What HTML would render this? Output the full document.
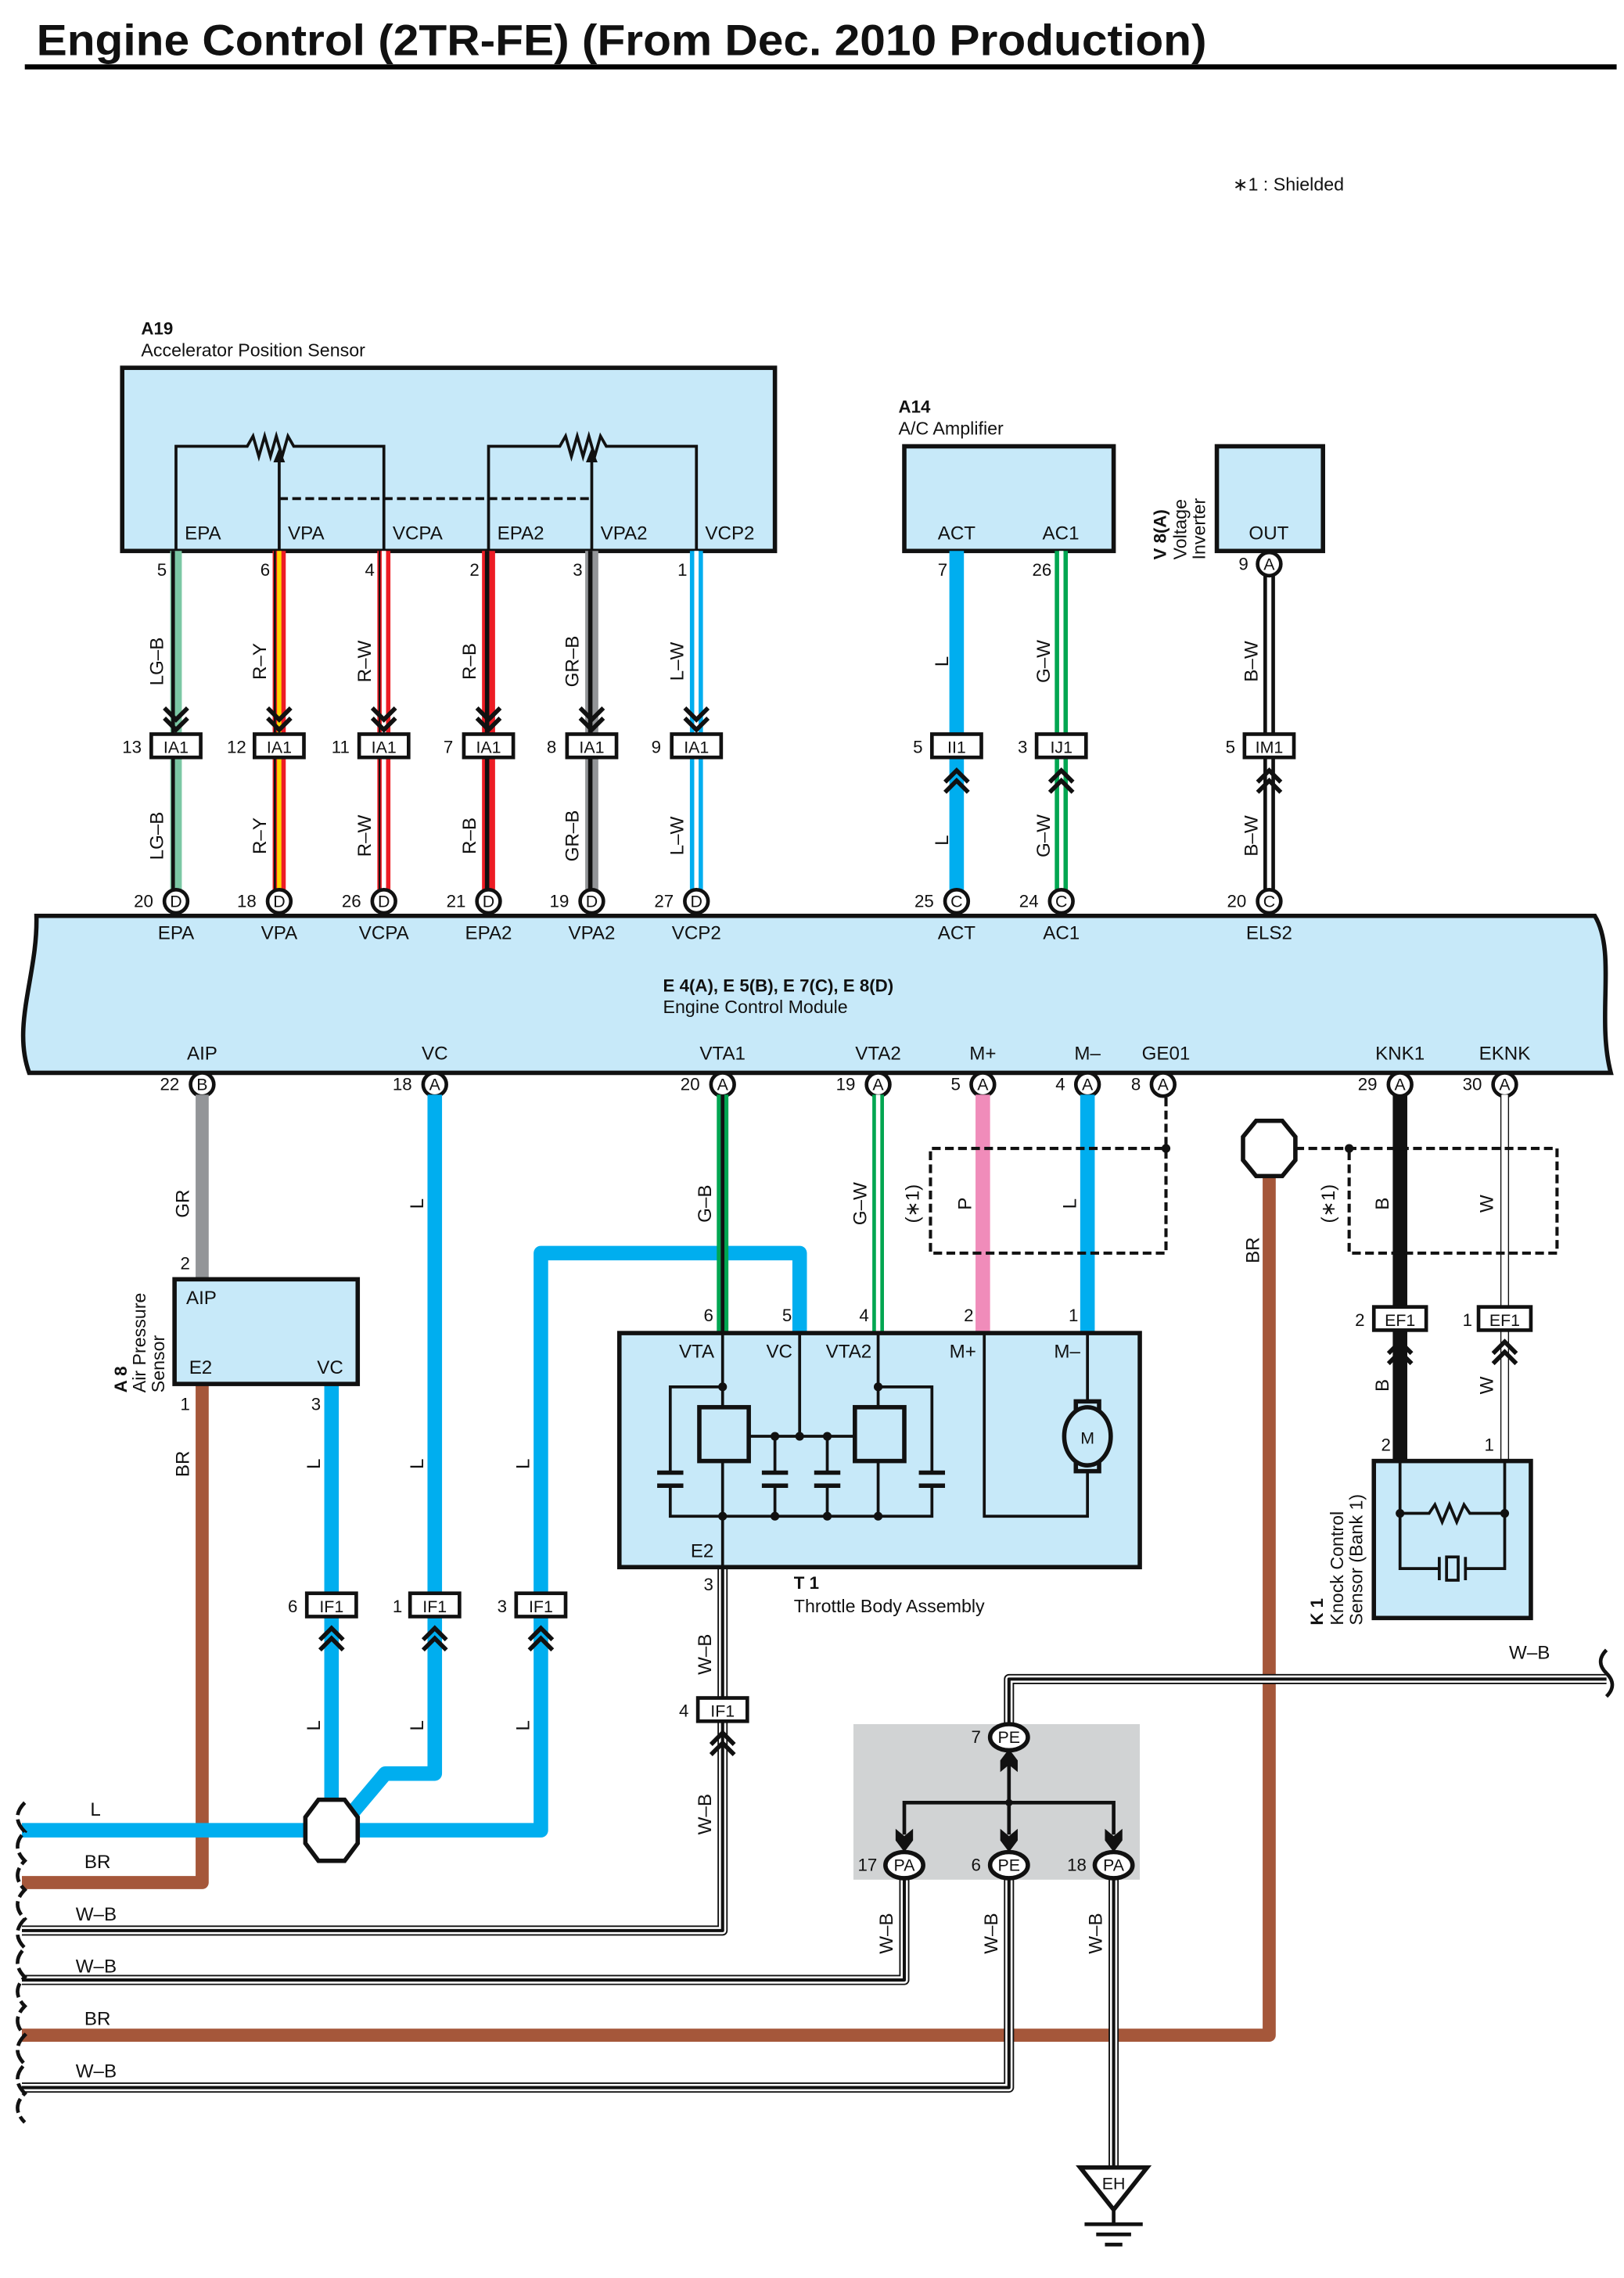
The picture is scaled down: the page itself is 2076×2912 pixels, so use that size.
<!DOCTYPE html>
<html><head><meta charset="utf-8"><style>
html,body{margin:0;padding:0;background:#fff}
svg{display:block}
text{font-family:"Liberation Sans",sans-serif;fill:#111}
.n{font-size:12px}
.l{font-size:13px}
.c{font-size:11.5px;text-anchor:middle}
</style></head><body>
<svg width="2076" height="2912" viewBox="0 0 1117 1567" xmlns="http://www.w3.org/2000/svg">
<rect width="1117" height="1567" fill="#fff"/>
<!-- Title -->
<text x="25" y="38" font-size="30" font-weight="bold" textLength="805" lengthAdjust="spacingAndGlyphs">Engine Control (2TR-FE) (From Dec. 2010 Production)</text>
<line x1="17" y1="46" x2="1112" y2="46" stroke="#000" stroke-width="3.5"/>
<text x="848" y="131" font-size="12.5">∗1 : Shielded</text>

<!-- A19 -->
<text x="97" y="230" font-size="12" font-weight="bold">A19</text>
<text x="97" y="245" font-size="12.5">Accelerator Position Sensor</text>
<rect x="84" y="253" width="449" height="126" fill="#c7e9f9" stroke="#111" stroke-width="3"/>
<g stroke="#111" stroke-width="2" fill="none">
<polyline points="121,379 121,307 170,307 174,300 178,314 182,300 186,314 190,300 194,314 198,300 202,307 264,307 264,379"/>
<polyline points="336,379 336,307 385,307 389,300 393,314 397,300 401,314 405,300 409,314 413,300 417,307 479,307 479,379"/>
<line x1="192" y1="379" x2="192" y2="316"/>
<line x1="407" y1="379" x2="407" y2="316"/>
<line x1="192" y1="343" x2="407" y2="343" stroke-dasharray="6,3"/>
</g>
<polygon points="192,308 188,318 196,318" fill="#111"/>
<polygon points="407,308 403,318 411,318" fill="#111"/>
<g class="l"><text x="127" y="371">EPA</text><text x="198" y="371">VPA</text><text x="270" y="371">VCPA</text><text x="342" y="371">EPA2</text><text x="413" y="371">VPA2</text><text x="485" y="371">VCP2</text></g>

<!-- A14 -->
<text x="618" y="284" font-size="12" font-weight="bold">A14</text>
<text x="618" y="299" font-size="12.5">A/C Amplifier</text>
<rect x="622" y="307" width="144" height="72" fill="#c7e9f9" stroke="#111" stroke-width="3"/>
<text x="645" y="371" class="l">ACT</text><text x="717" y="371" class="l">AC1</text>
<!-- V8 -->
<rect x="837" y="307" width="73" height="72" fill="#c7e9f9" stroke="#111" stroke-width="3"/>
<text x="859" y="371" class="l">OUT</text>
<text transform="translate(802,385) rotate(-90)" font-size="12" font-weight="bold">V 8(A)</text>
<text transform="translate(816,385) rotate(-90)" font-size="12.5">Voltage</text>
<text transform="translate(829,385) rotate(-90)" font-size="12.5">Inverter</text>

<!-- Top wires -->
<g fill="none">
<line x1="121" y1="379" x2="121" y2="620" stroke="#7bc8a4" stroke-width="8"/><line x1="119" y1="379" x2="119" y2="620" stroke="#111" stroke-width="2.5"/>
<line x1="192" y1="379" x2="192" y2="620" stroke="#ed1c24" stroke-width="9"/><line x1="192" y1="379" x2="192" y2="620" stroke="#ffd400" stroke-width="3"/><line x1="189" y1="379" x2="189" y2="620" stroke="#111" stroke-width="1.5"/>
<line x1="264" y1="379" x2="264" y2="620" stroke="#ed1c24" stroke-width="9"/><line x1="264" y1="379" x2="264" y2="620" stroke="#fff" stroke-width="3"/><line x1="261" y1="379" x2="261" y2="620" stroke="#111" stroke-width="1.2"/>
<line x1="336" y1="379" x2="336" y2="620" stroke="#ed1c24" stroke-width="9"/><line x1="335" y1="379" x2="335" y2="620" stroke="#111" stroke-width="3"/>
<line x1="407" y1="379" x2="407" y2="620" stroke="#939598" stroke-width="9"/><line x1="406" y1="379" x2="406" y2="620" stroke="#111" stroke-width="3"/>
<line x1="479" y1="379" x2="479" y2="620" stroke="#00aeef" stroke-width="9"/><line x1="479" y1="379" x2="479" y2="620" stroke="#fff" stroke-width="3"/>
<line x1="658" y1="379" x2="658" y2="620" stroke="#00aeef" stroke-width="10"/>
<line x1="730" y1="379" x2="730" y2="620" stroke="#00a651" stroke-width="9"/><line x1="730" y1="379" x2="730" y2="620" stroke="#fff" stroke-width="3"/>
<line x1="873" y1="392" x2="873" y2="620" stroke="#111" stroke-width="8"/><line x1="873" y1="392" x2="873" y2="620" stroke="#fff" stroke-width="3"/>
</g>
<!-- top pin numbers -->
<g class="n"><text x="108" y="396">5</text><text x="179" y="396">6</text><text x="251" y="396">4</text><text x="323" y="396">2</text><text x="394" y="396">3</text><text x="466" y="396">1</text><text x="645" y="396">7</text><text x="710" y="396">26</text></g>
<circle cx="873" cy="388" r="8" fill="#fff" stroke="#111" stroke-width="2.5"/><text x="873" y="392" class="c">A</text><text x="852" y="392" class="n">9</text>
<!-- wire labels rotated -->
<g class="l">
<text transform="translate(112,455) rotate(-90)" text-anchor="middle">LG–B</text><text transform="translate(112,575) rotate(-90)" text-anchor="middle">LG–B</text>
<text transform="translate(183,455) rotate(-90)" text-anchor="middle">R–Y</text><text transform="translate(183,575) rotate(-90)" text-anchor="middle">R–Y</text>
<text transform="translate(255,455) rotate(-90)" text-anchor="middle">R–W</text><text transform="translate(255,575) rotate(-90)" text-anchor="middle">R–W</text>
<text transform="translate(327,455) rotate(-90)" text-anchor="middle">R–B</text><text transform="translate(327,575) rotate(-90)" text-anchor="middle">R–B</text>
<text transform="translate(398,455) rotate(-90)" text-anchor="middle">GR–B</text><text transform="translate(398,575) rotate(-90)" text-anchor="middle">GR–B</text>
<text transform="translate(470,455) rotate(-90)" text-anchor="middle">L–W</text><text transform="translate(470,575) rotate(-90)" text-anchor="middle">L–W</text>
<text transform="translate(652,455) rotate(-90)" text-anchor="middle">L</text><text transform="translate(652,578) rotate(-90)" text-anchor="middle">L</text>
<text transform="translate(722,455) rotate(-90)" text-anchor="middle">G–W</text><text transform="translate(722,575) rotate(-90)" text-anchor="middle">G–W</text>
<text transform="translate(865,455) rotate(-90)" text-anchor="middle">B–W</text><text transform="translate(865,575) rotate(-90)" text-anchor="middle">B–W</text>
</g>
<!-- down chevrons and IA1 -->
<g stroke="#111" stroke-width="3" fill="none">
<path d="M113,487 l8,8 l8,-8 M113,494 l8,8 l8,-8"/>
<path d="M184,487 l8,8 l8,-8 M184,494 l8,8 l8,-8"/>
<path d="M256,487 l8,8 l8,-8 M256,494 l8,8 l8,-8"/>
<path d="M328,487 l8,8 l8,-8 M328,494 l8,8 l8,-8"/>
<path d="M399,487 l8,8 l8,-8 M399,494 l8,8 l8,-8"/>
<path d="M471,487 l8,8 l8,-8 M471,494 l8,8 l8,-8"/>
<path d="M650,538 l8,-8 l8,8 M650,545 l8,-8 l8,8"/>
<path d="M722,538 l8,-8 l8,8 M722,545 l8,-8 l8,8"/>
<path d="M865,538 l8,-8 l8,8 M865,545 l8,-8 l8,8"/>
</g>
<g stroke="#111" stroke-width="2.5" fill="#fff">
<rect x="104" y="505" width="34" height="16"/><rect x="175" y="505" width="34" height="16"/><rect x="247" y="505" width="34" height="16"/><rect x="319" y="505" width="34" height="16"/><rect x="390" y="505" width="34" height="16"/><rect x="462" y="505" width="34" height="16"/>
<rect x="641" y="505" width="34" height="16"/><rect x="713" y="505" width="34" height="16"/><rect x="856" y="505" width="34" height="16"/>
</g>
<g class="c"><text x="121" y="518">IA1</text><text x="192" y="518">IA1</text><text x="264" y="518">IA1</text><text x="336" y="518">IA1</text><text x="407" y="518">IA1</text><text x="479" y="518">IA1</text><text x="658" y="518">II1</text><text x="730" y="518">IJ1</text><text x="873" y="518">IM1</text></g>
<g class="n"><text x="84" y="518">13</text><text x="156" y="518">12</text><text x="228" y="518">11</text><text x="305" y="518">7</text><text x="376" y="518">8</text><text x="448" y="518">9</text><text x="628" y="518">5</text><text x="700" y="518">3</text><text x="843" y="518">5</text></g>

<!-- ECM -->
<path d="M25,630 H1097 C1112,655 1098,700 1108,738 H20 C8,705 26,670 25,630Z" fill="#c7e9f9" stroke="#111" stroke-width="3"/>
<g stroke="#111" stroke-width="2.5" fill="#fff">
<circle cx="121" cy="620" r="8"/><circle cx="192" cy="620" r="8"/><circle cx="264" cy="620" r="8"/><circle cx="336" cy="620" r="8"/><circle cx="407" cy="620" r="8"/><circle cx="479" cy="620" r="8"/><circle cx="658" cy="620" r="8"/><circle cx="730" cy="620" r="8"/><circle cx="873" cy="620" r="8"/>
<circle cx="139" cy="746" r="8"/><circle cx="299" cy="746" r="8"/><circle cx="497" cy="746" r="8"/><circle cx="604" cy="746" r="8"/><circle cx="676" cy="746" r="8"/><circle cx="748" cy="746" r="8"/><circle cx="800" cy="746" r="8"/><circle cx="963" cy="746" r="8"/><circle cx="1035" cy="746" r="8"/>
</g>
<g class="c"><text x="121" y="624">D</text><text x="192" y="624">D</text><text x="264" y="624">D</text><text x="336" y="624">D</text><text x="407" y="624">D</text><text x="479" y="624">D</text><text x="658" y="624">C</text><text x="730" y="624">C</text><text x="873" y="624">C</text>
<text x="139" y="750">B</text><text x="299" y="750">A</text><text x="497" y="750">A</text><text x="604" y="750">A</text><text x="676" y="750">A</text><text x="748" y="750">A</text><text x="800" y="750">A</text><text x="963" y="750">A</text><text x="1035" y="750">A</text></g>
<g class="n"><text x="92" y="624">20</text><text x="163" y="624">18</text><text x="235" y="624">26</text><text x="307" y="624">21</text><text x="378" y="624">19</text><text x="450" y="624">27</text><text x="629" y="624">25</text><text x="701" y="624">24</text><text x="844" y="624">20</text>
<text x="110" y="750">22</text><text x="270" y="750">18</text><text x="468" y="750">20</text><text x="575" y="750">19</text><text x="654" y="750">5</text><text x="726" y="750">4</text><text x="778" y="750">8</text><text x="934" y="750">29</text><text x="1006" y="750">30</text></g>
<g class="l" text-anchor="middle"><text x="121" y="646">EPA</text><text x="192" y="646">VPA</text><text x="264" y="646">VCPA</text><text x="336" y="646">EPA2</text><text x="407" y="646">VPA2</text><text x="479" y="646">VCP2</text><text x="658" y="646">ACT</text><text x="730" y="646">AC1</text><text x="873" y="646">ELS2</text>
<text x="139" y="729">AIP</text><text x="299" y="729">VC</text><text x="497" y="729">VTA1</text><text x="604" y="729">VTA2</text><text x="676" y="729">M+</text><text x="748" y="729">M–</text><text x="802" y="729">GE01</text><text x="963" y="729">KNK1</text><text x="1035" y="729">EKNK</text></g>
<text x="456" y="682" font-size="12" font-weight="bold">E 4(A), E 5(B), E 7(C), E 8(D)</text>
<text x="456" y="697" font-size="12.5">Engine Control Module</text>

<!-- Lower wires: BR, W-B -->
<g fill="none" stroke-linejoin="round">
<path d="M139,952 V1295 H15" stroke="#a5573a" stroke-width="9"/>
<path d="M873,808 V1400 H15" stroke="#a5573a" stroke-width="9"/>
<path d="M139,753 V880" stroke="#939598" stroke-width="9"/>
<!-- L blue -->
<path d="M550,917 V862 H372 V1259 H246" stroke="#00aeef" stroke-width="10"/>
<path d="M299,753 V1220 H265 L238,1252" stroke="#00aeef" stroke-width="10"/>
<path d="M228,952 V1245" stroke="#00aeef" stroke-width="10"/>
<path d="M15,1259 H212" stroke="#00aeef" stroke-width="10"/>
<!-- G-B, G-W, P, L -->
<line x1="497" y1="753" x2="497" y2="917" stroke="#00a651" stroke-width="8"/><line x1="497" y1="753" x2="497" y2="917" stroke="#111" stroke-width="2.5"/>
<line x1="604" y1="753" x2="604" y2="917" stroke="#00a651" stroke-width="8"/><line x1="604" y1="753" x2="604" y2="917" stroke="#fff" stroke-width="3"/>
<line x1="676" y1="753" x2="676" y2="917" stroke="#f08cba" stroke-width="10"/>
<line x1="748" y1="753" x2="748" y2="917" stroke="#00aeef" stroke-width="10"/>
<!-- KNK -->
<line x1="963" y1="753" x2="963" y2="1005" stroke="#111" stroke-width="10"/>
<line x1="1035" y1="753" x2="1035" y2="1005" stroke="#111" stroke-width="6"/><line x1="1035" y1="753" x2="1035" y2="1005" stroke="#fff" stroke-width="4.5"/>
<!-- W-B lines -->
<g>
<path d="M497,1078 V1328 H15" stroke="#111" stroke-width="7"/><path d="M497,1078 V1328 H15" stroke="#fff" stroke-width="5"/><path d="M497,1078 V1328 H15" stroke="#111" stroke-width="2.2"/>
<path d="M622,1292 V1362 H15" stroke="#111" stroke-width="7"/><path d="M622,1292 V1362 H15" stroke="#fff" stroke-width="5"/><path d="M622,1292 V1362 H15" stroke="#111" stroke-width="2.2"/>
<path d="M694,1292 V1436 H15" stroke="#111" stroke-width="7"/><path d="M694,1292 V1436 H15" stroke="#fff" stroke-width="5"/><path d="M694,1292 V1436 H15" stroke="#111" stroke-width="2.2"/>
<path d="M766,1292 V1490" stroke="#111" stroke-width="7"/><path d="M766,1292 V1490" stroke="#fff" stroke-width="5"/><path d="M766,1292 V1490" stroke="#111" stroke-width="2.2"/>
</g>
</g>
<!-- wavy left border -->
<path d="M17,1240 q-10,10 0,20 q-10,10 0,20 q-10,10 0,20 q-10,10 0,20 q-10,10 0,20 q-10,10 0,20 q-10,10 0,20 q-10,10 0,20 q-10,10 0,20 q-10,10 0,20 q-10,10 0,20" fill="none" stroke="#111" stroke-width="2.5" stroke-dasharray="10,3"/>
<g class="l"><text x="62" y="1249">L</text><text x="58" y="1285">BR</text><text x="52" y="1321">W–B</text><text x="52" y="1357">W–B</text><text x="58" y="1393">BR</text><text x="52" y="1429">W–B</text></g>

<!-- gray box & PE/PA -->
<rect x="587" y="1186" width="197" height="107" fill="#d1d3d4"/>
<g fill="none" stroke-linejoin="round">
<path d="M694,1186 V1155 H1105" stroke="#111" stroke-width="7"/><path d="M694,1186 V1155 H1105" stroke="#fff" stroke-width="5"/><path d="M694,1186 V1155 H1105" stroke="#111" stroke-width="2.2"/>
</g>
<path d="M1105,1135 q-8,8 0,16 q8,8 0,16" fill="none" stroke="#111" stroke-width="2.5"/>
<text x="1038" y="1141" class="l">W–B</text>
<g stroke="#111" stroke-width="2.5" fill="none">
<line x1="694" y1="1210" x2="694" y2="1240"/>
<polyline points="622,1262 622,1240 766,1240 766,1262"/>
<line x1="694" y1="1240" x2="694" y2="1262"/>
</g>
<circle cx="694" cy="1240" r="2.5" fill="#111"/>
<g fill="#111"><path d="M694,1203 l-6,8 v8 l6,-5 l6,5 v-8z"/><path d="M622,1274 l-6,-8 v-8 l6,5 l6,-5 v8z"/><path d="M694,1274 l-6,-8 v-8 l6,5 l6,-5 v8z"/><path d="M766,1274 l-6,-8 v-8 l6,5 l6,-5 v8z"/></g>
<g stroke="#111" stroke-width="3" fill="#fff"><ellipse cx="694" cy="1195" rx="13" ry="9"/><ellipse cx="622" cy="1283" rx="13" ry="9"/><ellipse cx="694" cy="1283" rx="13" ry="9"/><ellipse cx="766" cy="1283" rx="13" ry="9"/></g>
<g class="c"><text x="694" y="1199">PE</text><text x="622" y="1287">PA</text><text x="694" y="1287">PE</text><text x="766" y="1287">PA</text></g>
<g class="n"><text x="668" y="1199">7</text><text x="590" y="1287">17</text><text x="668" y="1287">6</text><text x="734" y="1287">18</text></g>
<g class="l"><text transform="translate(614,1330) rotate(-90)" text-anchor="middle">W–B</text><text transform="translate(686,1330) rotate(-90)" text-anchor="middle">W–B</text><text transform="translate(758,1330) rotate(-90)" text-anchor="middle">W–B</text></g>
<!-- EH ground -->
<polygon points="743,1491 789,1491 766,1520" fill="#fff" stroke="#111" stroke-width="3"/>
<text x="766" y="1506" class="c">EH</text>
<g stroke="#111" stroke-width="2.5"><line x1="766" y1="1520" x2="766" y2="1529"/><line x1="746" y1="1530" x2="786" y2="1530"/><line x1="754" y1="1537" x2="778" y2="1537"/><line x1="760" y1="1544" x2="772" y2="1544"/></g>

<!-- A8 Air Pressure Sensor -->
<rect x="120" y="880" width="126" height="72" fill="#c7e9f9" stroke="#111" stroke-width="3"/>
<g class="l"><text x="128" y="897">AIP</text><text x="130" y="945">E2</text><text x="218" y="945">VC</text></g>
<g class="n"><text x="124" y="873">2</text><text x="124" y="970">1</text><text x="214" y="970">3</text></g>
<text transform="translate(87,958) rotate(-90)" font-size="12" font-weight="bold">A 8</text>
<text transform="translate(100,958) rotate(-90)" font-size="12.5">Air Pressure</text>
<text transform="translate(113,958) rotate(-90)" font-size="12.5">Sensor</text>
<g class="l">
<text transform="translate(130,828) rotate(-90)" text-anchor="middle">GR</text>
<text transform="translate(130,1007) rotate(-90)" text-anchor="middle">BR</text>
<text transform="translate(220,1007) rotate(-90)" text-anchor="middle">L</text>
<text transform="translate(220,1187) rotate(-90)" text-anchor="middle">L</text>
<text transform="translate(291,828) rotate(-90)" text-anchor="middle">L</text>
<text transform="translate(291,1007) rotate(-90)" text-anchor="middle">L</text>
<text transform="translate(291,1187) rotate(-90)" text-anchor="middle">L</text>
<text transform="translate(364,1007) rotate(-90)" text-anchor="middle">L</text>
<text transform="translate(364,1187) rotate(-90)" text-anchor="middle">L</text>
<text transform="translate(489,828) rotate(-90)" text-anchor="middle">G–B</text>
<text transform="translate(596,828) rotate(-90)" text-anchor="middle">G–W</text>
<text transform="translate(668,828) rotate(-90)" text-anchor="middle">P</text>
<text transform="translate(740,828) rotate(-90)" text-anchor="middle">L</text>
<text transform="translate(632,828) rotate(-90)" text-anchor="middle">(∗1)</text>
<text transform="translate(866,860) rotate(-90)" text-anchor="middle">BR</text>
<text transform="translate(918,828) rotate(-90)" text-anchor="middle">(∗1)</text>
<text transform="translate(955,828) rotate(-90)" text-anchor="middle">B</text>
<text transform="translate(1027,828) rotate(-90)" text-anchor="middle">W</text>
<text transform="translate(955,953) rotate(-90)" text-anchor="middle">B</text>
<text transform="translate(1027,953) rotate(-90)" text-anchor="middle">W</text>
<text transform="translate(489,1138) rotate(-90)" text-anchor="middle">W–B</text>
<text transform="translate(489,1248) rotate(-90)" text-anchor="middle">W–B</text>
</g>
<!-- IF1 connectors -->
<g stroke="#111" stroke-width="3" fill="none">
<path d="M220,1128 l8,-8 l8,8 M220,1135 l8,-8 l8,8"/>
<path d="M291,1128 l8,-8 l8,8 M291,1135 l8,-8 l8,8"/>
<path d="M364,1128 l8,-8 l8,8 M364,1135 l8,-8 l8,8"/>
<path d="M489,1200 l8,-8 l8,8 M489,1207 l8,-8 l8,8"/>
<path d="M955,931 l8,-8 l8,8 M955,938 l8,-8 l8,8"/>
<path d="M1027,931 l8,-8 l8,8 M1027,938 l8,-8 l8,8"/>
</g>
<g stroke="#111" stroke-width="2.5" fill="#fff">
<rect x="211" y="1096" width="34" height="16"/><rect x="282" y="1096" width="34" height="16"/><rect x="355" y="1096" width="34" height="16"/><rect x="480" y="1168" width="34" height="16"/>
<rect x="945" y="899" width="36" height="16"/><rect x="1017" y="899" width="36" height="16"/>
</g>
<g class="c"><text x="228" y="1109">IF1</text><text x="299" y="1109">IF1</text><text x="372" y="1109">IF1</text><text x="497" y="1181">IF1</text><text x="963" y="912">EF1</text><text x="1035" y="912">EF1</text></g>
<g class="n"><text x="198" y="1109">6</text><text x="270" y="1109">1</text><text x="342" y="1109">3</text><text x="467" y="1181">4</text><text x="932" y="912">2</text><text x="1006" y="912">1</text></g>
<!-- splices -->
<polygon points="219,1238 237,1238 246,1250 246,1268 237,1280 219,1280 210,1268 210,1250" fill="#fff" stroke="#111" stroke-width="3"/>
<polygon points="864,771 882,771 891,782 891,798 882,809 864,809 855,798 855,782" fill="#fff" stroke="#111" stroke-width="3"/>
<!-- shield dashed -->
<g stroke="#111" stroke-width="2.2" fill="none" stroke-dasharray="6,3">
<path d="M802,755 V862 H640 V790 H802"/>
<path d="M891,790 H1071 V862 H928 V790"/>
</g>
<circle cx="802" cy="790" r="3" fill="#111"/><circle cx="928" cy="790" r="3" fill="#111"/>

<!-- Throttle body -->
<rect x="426" y="917" width="358" height="161" fill="#c7e9f9" stroke="#111" stroke-width="3"/>
<g stroke="#111" stroke-width="2" fill="none">
<line x1="497" y1="917" x2="497" y2="1078"/>
<line x1="604" y1="917" x2="604" y2="968"/>
<line x1="550" y1="917" x2="550" y2="988"/>
<polyline points="497,954 461,954 461,1013"/><polyline points="461,1022 461,1043 641,1043 641,1022"/><polyline points="604,954 641,954 641,1013"/>
<line x1="515" y1="988" x2="588" y2="988"/>
<line x1="533" y1="988" x2="533" y2="1013"/><line x1="533" y1="1022" x2="533" y2="1043"/>
<line x1="569" y1="988" x2="569" y2="1013"/><line x1="569" y1="1022" x2="569" y2="1043"/>
<line x1="604" y1="1005" x2="604" y2="1043"/>
<polyline points="677,917 677,1043 748,1043 748,1010"/><line x1="748" y1="917" x2="748" y2="966"/>
</g>
<g stroke="#111" stroke-width="3" fill="none">
<rect x="481" y="968" width="34" height="37" fill="#c7e9f9"/><rect x="588" y="968" width="34" height="37" fill="#c7e9f9"/>
<path d="M452,1013 h18 M452,1022 h18 M524,1013 h18 M524,1022 h18 M560,1013 h18 M560,1022 h18 M632,1013 h18 M632,1022 h18"/>
<rect x="740" y="964" width="16" height="6" fill="#c7e9f9"/><rect x="740" y="1006" width="16" height="6" fill="#c7e9f9"/>
<ellipse cx="748" cy="988" rx="16" ry="20" fill="#c7e9f9"/>
</g>
<text x="748" y="993" class="c">M</text>
<g fill="#111"><circle cx="497" cy="954" r="3"/><circle cx="604" cy="954" r="3"/><circle cx="533" cy="988" r="3"/><circle cx="550" cy="988" r="3"/><circle cx="569" cy="988" r="3"/><circle cx="497" cy="1043" r="3"/><circle cx="533" cy="1043" r="3"/><circle cx="569" cy="1043" r="3"/><circle cx="604" cy="1043" r="3"/></g>
<g class="l"><text x="467" y="934">VTA</text><text x="527" y="934">VC</text><text x="568" y="934">VTA2</text><text x="653" y="934">M+</text><text x="725" y="934">M–</text><text x="475" y="1071">E2</text></g>
<g class="n"><text x="484" y="909">6</text><text x="538" y="909">5</text><text x="591" y="909">4</text><text x="663" y="909">2</text><text x="735" y="909">1</text><text x="484" y="1094">3</text></g>
<text x="546" y="1093" font-size="12" font-weight="bold">T 1</text>
<text x="546" y="1109" font-size="12.5">Throttle Body Assembly</text>

<!-- K1 knock sensor -->
<rect x="945" y="1005" width="108" height="108" fill="#c7e9f9" stroke="#111" stroke-width="3"/>
<g stroke="#111" stroke-width="2" fill="none">
<polyline points="963,1005 963,1079 990,1079"/>
<polyline points="1035,1005 1035,1079 1008,1079"/>
<polyline points="963,1041 983,1041 987,1035 992,1047 997,1035 1002,1047 1007,1035 1011,1041 1035,1041"/>
<line x1="990" y1="1071" x2="990" y2="1087"/><line x1="1008" y1="1071" x2="1008" y2="1087"/>
<rect x="995" y="1071" width="8" height="16"/>
</g>
<circle cx="963" cy="1041" r="3" fill="#111"/><circle cx="1035" cy="1041" r="3" fill="#111"/>
<g class="n"><text x="950" y="998">2</text><text x="1021" y="998">1</text></g>
<text transform="translate(910,1118) rotate(-90)" font-size="12" font-weight="bold">K 1</text>
<text transform="translate(924,1118) rotate(-90)" font-size="12.5">Knock Control</text>
<text transform="translate(937,1118) rotate(-90)" font-size="12.5">Sensor (Bank 1)</text>
</svg>
</body></html>
